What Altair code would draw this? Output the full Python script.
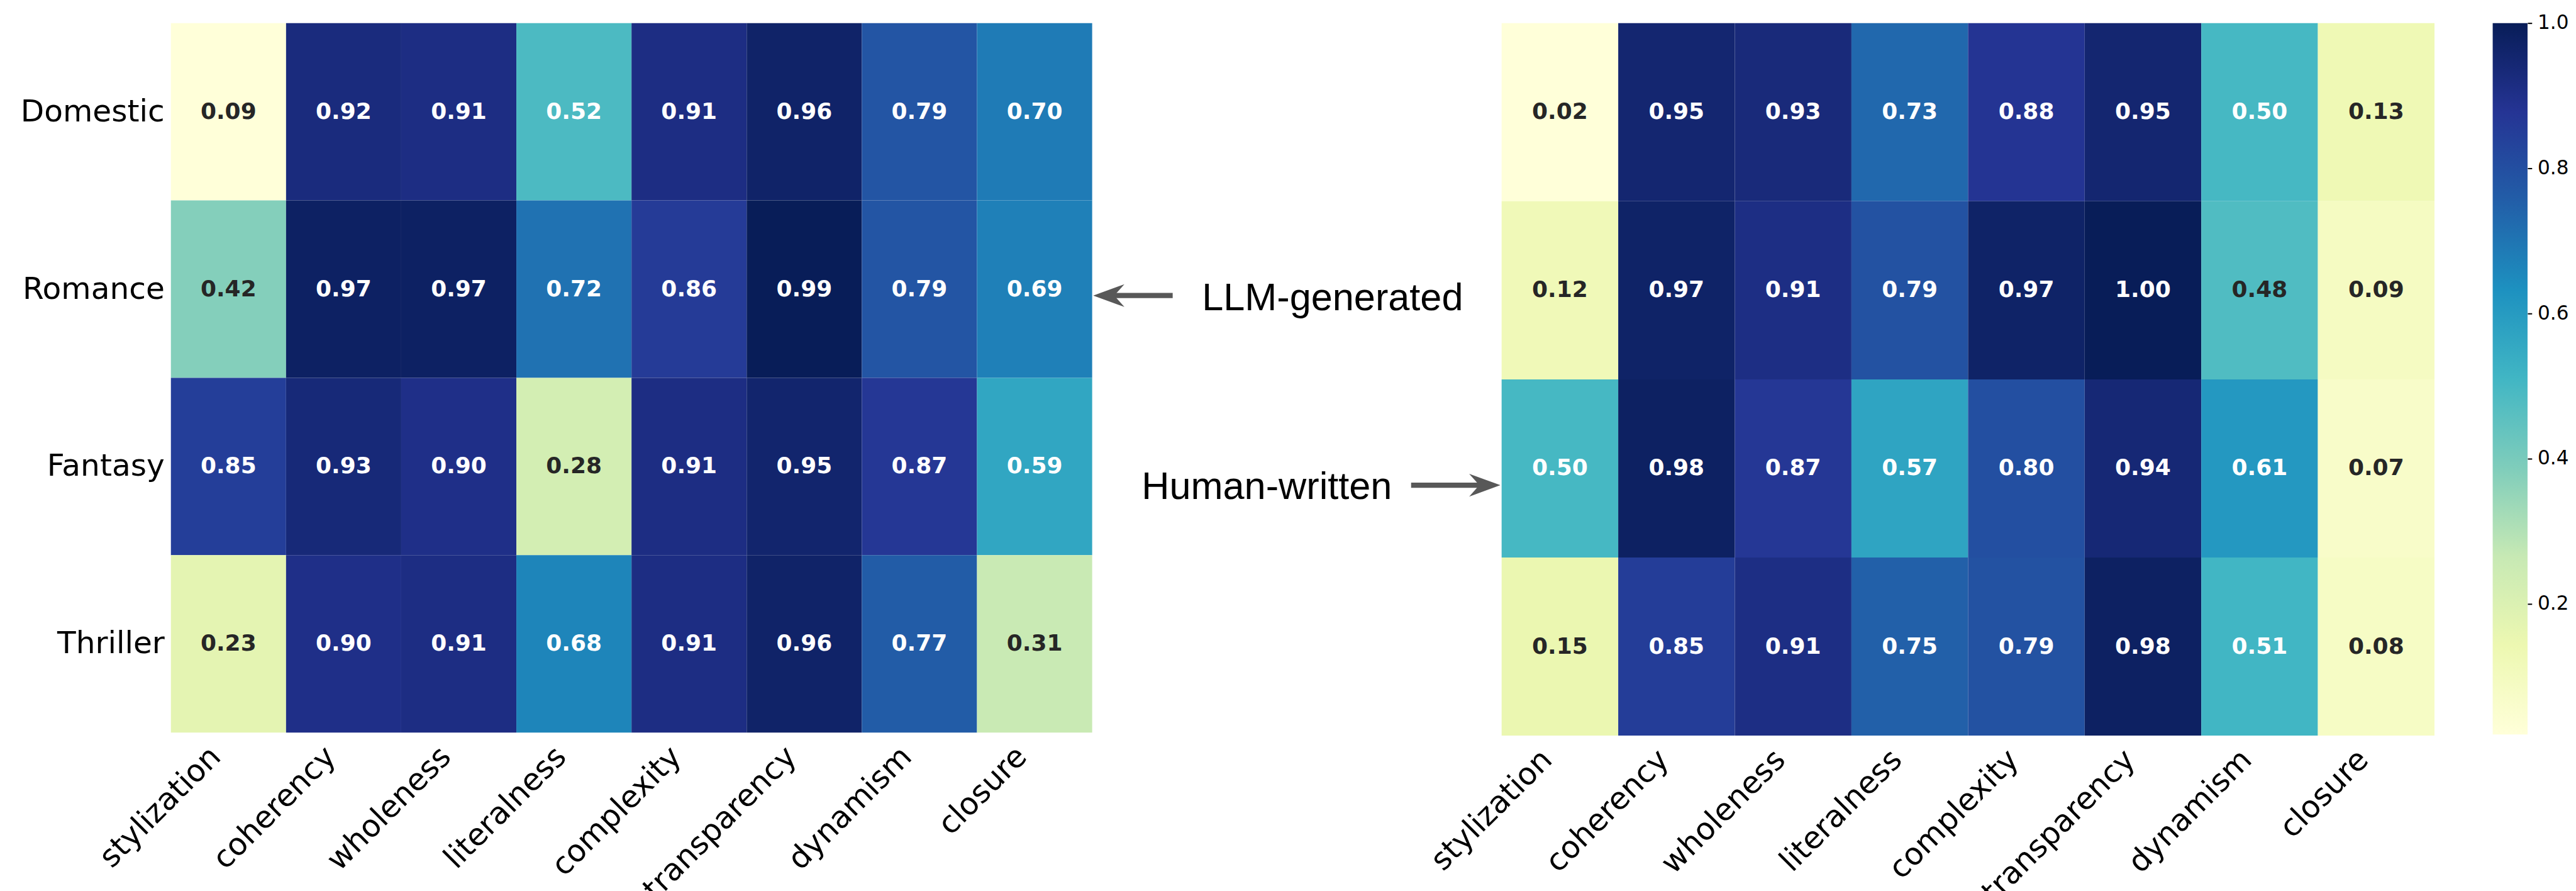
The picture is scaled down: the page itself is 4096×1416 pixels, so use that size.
import altair as alt
import pandas as pd

# ---------------- data ----------------
metrics = ["stylization", "coherency", "wholeness", "literalness",
           "complexity", "transparency", "dynamism", "closure"]
genres = ["Domestic", "Romance", "Fantasy", "Thriller"]

llm_domestic = [0.09, 0.92, 0.91, 0.52, 0.91, 0.96, 0.79, 0.70]
llm_romance = [0.42, 0.97, 0.97, 0.72, 0.86, 0.99, 0.79, 0.69]
llm_fantasy = [0.85, 0.93, 0.90, 0.28, 0.91, 0.95, 0.87, 0.59]
llm_thriller = [0.23, 0.90, 0.91, 0.68, 0.91, 0.96, 0.77, 0.31]

human_domestic = [0.02, 0.95, 0.93, 0.73, 0.88, 0.95, 0.50, 0.13]
human_romance = [0.12, 0.97, 0.91, 0.79, 0.97, 1.00, 0.48, 0.09]
human_fantasy = [0.50, 0.98, 0.87, 0.57, 0.80, 0.94, 0.61, 0.07]
human_thriller = [0.15, 0.85, 0.91, 0.75, 0.79, 0.98, 0.51, 0.08]

colorbar_ticks = [0.2, 0.4, 0.6, 0.8, 1.0]

annotation_labels = ["LLM-generated", "Human-written"]

# ---------------- styling ----------------
S = 0.973
YLGNBU = ["#ffffd9", "#edf8b1", "#c7e9b4", "#7fcdbb", "#41b6c4",
          "#1d91c0", "#225ea8", "#253494", "#081d58"]
ARROW_COLOR = "#585858"
TOP_REF = 36.5


def long_df(rows):
    recs = []
    for g, vals in zip(genres, rows):
        for m, v in zip(metrics, vals):
            recs.append({"genre": g, "metric": m, "value": v})
    return pd.DataFrame(recs)


llm_df = long_df([llm_domestic, llm_romance, llm_fantasy, llm_thriller])
human_df = long_df([human_domestic, human_romance, human_fantasy, human_thriller])

x_axis = alt.Axis(labelAngle=-45, labelAlign="right", labelBaseline="middle",
                  labelFont="DejaVu Sans", labelFontSize=50 * S, labelColor="black",
                  tickSize=0, domain=False, labelPadding=31 * S, labelOffset=-21 * S,
                  labelOverlap=False, labelLimit=0)
y_axis = alt.Axis(labelFont="DejaVu Sans", labelFontSize=50 * S, labelColor="black",
                  tickSize=0, domain=False, labelPadding=10.7 * S, labelLimit=0)


def heatmap(df, w, h, show_y):
    vmin, vmax = float(df["value"].min()), float(df["value"].max())
    dom = [vmin + (vmax - vmin) * i / 8 for i in range(9)]
    base = alt.Chart(df).encode(
        x=alt.X("metric:N", sort=metrics, title=None,
                scale=alt.Scale(paddingInner=0, paddingOuter=0), axis=x_axis),
        y=alt.Y("genre:N", sort=genres, title=None,
                scale=alt.Scale(paddingInner=0, paddingOuter=0),
                axis=y_axis if show_y else None),
    )
    rect = base.mark_rect().encode(
        color=alt.Color("value:Q", legend=None,
                        scale=alt.Scale(domain=dom, range=YLGNBU, interpolate="rgb"))
    )
    text = base.mark_text(font="DejaVu Sans", fontWeight="bold", fontSize=37 * S).encode(
        text=alt.Text("value:Q", format=".2f"),
        color=alt.condition(alt.datum.value < 0.49, alt.value("#262626"), alt.value("white")),
    )
    return alt.layer(rect, text).properties(width=w, height=h)


left = heatmap(llm_df, 1507 * S, 1160 * S, True)
right = heatmap(human_df, 1526 * S, 1165 * S, False)

# ---------------- middle annotation panel ----------------
mid_x = alt.Scale(domain=[1786, 2455], nice=False, zero=False)
mid_y = alt.Scale(domain=[TOP_REF, TOP_REF + 1160], nice=False, zero=False, reverse=True)

shaft_df = pd.DataFrame({"x1": [1917, 2307], "x2": [1812, 2428], "y": [482, 792]})
head_left_df = pd.DataFrame({"x": [1812.5], "y": [482]})
head_right_df = pd.DataFrame({"x": [2427.5], "y": [792]})
label_df = pd.DataFrame({"label": annotation_labels, "x": [2178.5, 2071], "y": [506, 815]})

shafts = alt.Chart(shaft_df).mark_rule(color=ARROW_COLOR, strokeWidth=8.5 * S).encode(
    x=alt.X("x1:Q", scale=mid_x, axis=None), x2="x2:Q",
    y=alt.Y("y:Q", scale=mid_y, axis=None))

HEAD_SIZE = (51 * S) ** 2
head_l = alt.Chart(head_left_df).mark_point(
    shape="M -1 0 L 1 -0.73 L 0.35 0 L 1 0.73 Z", filled=True, opacity=1,
    color=ARROW_COLOR, size=HEAD_SIZE, strokeWidth=0).encode(
    x=alt.X("x:Q", scale=mid_x, axis=None), y=alt.Y("y:Q", scale=mid_y, axis=None))
head_r = alt.Chart(head_right_df).mark_point(
    shape="M 1 0 L -1 -0.73 L -0.35 0 L -1 0.73 Z", filled=True, opacity=1,
    color=ARROW_COLOR, size=HEAD_SIZE, strokeWidth=0).encode(
    x=alt.X("x:Q", scale=mid_x, axis=None), y=alt.Y("y:Q", scale=mid_y, axis=None))

labels = alt.Chart(label_df).mark_text(
    font="Liberation Sans", fontSize=63 * S, align="center", baseline="alphabetic",
    color="black").encode(
    x=alt.X("x:Q", scale=mid_x, axis=None), y=alt.Y("y:Q", scale=mid_y, axis=None),
    text="label:N")

mid = alt.layer(shafts, head_l, head_r, labels).properties(width=669 * S, height=1160 * S)

# ---------------- colorbar ----------------
lo, hi = float(human_df["value"].min()), float(human_df["value"].max())
cbar_df = pd.DataFrame({"lo": [lo], "hi": [hi]})
GAP = 95 * S
CW = 57 * S
grad = alt.Gradient(gradient="linear",
                    stops=[alt.GradientStop(color=c, offset=i / 8) for i, c in enumerate(YLGNBU)],
                    x1=0, x2=0, y1=1, y2=0)
cbar = alt.Chart(cbar_df).mark_rect(color=grad).encode(
    y=alt.Y("lo:Q", title=None, scale=alt.Scale(domain=[lo, hi], nice=False, zero=False),
            axis=alt.Axis(orient="right", values=colorbar_ticks, format=".1f",
                          tickSize=7 * S, tickWidth=2, tickColor="black",
                          labelFont="DejaVu Sans", labelFontSize=32 * S, labelColor="black",
                          labelPadding=9 * S, domain=False, grid=False)),
    y2="hi:Q",
    x=alt.value(GAP), x2=alt.value(GAP + CW),
).properties(width=GAP + CW, height=1163 * S)

chart = alt.hconcat(left, mid, right, cbar, spacing=0, bounds="flush").resolve_scale(
    x="independent", y="independent", color="independent"
).configure_view(stroke=None).properties(
    padding={"left": 24, "top": 12, "right": 4, "bottom": 0},
    background="white",
)

chart.save("out.html", embed_options={"renderer": "svg", "actions": False})
